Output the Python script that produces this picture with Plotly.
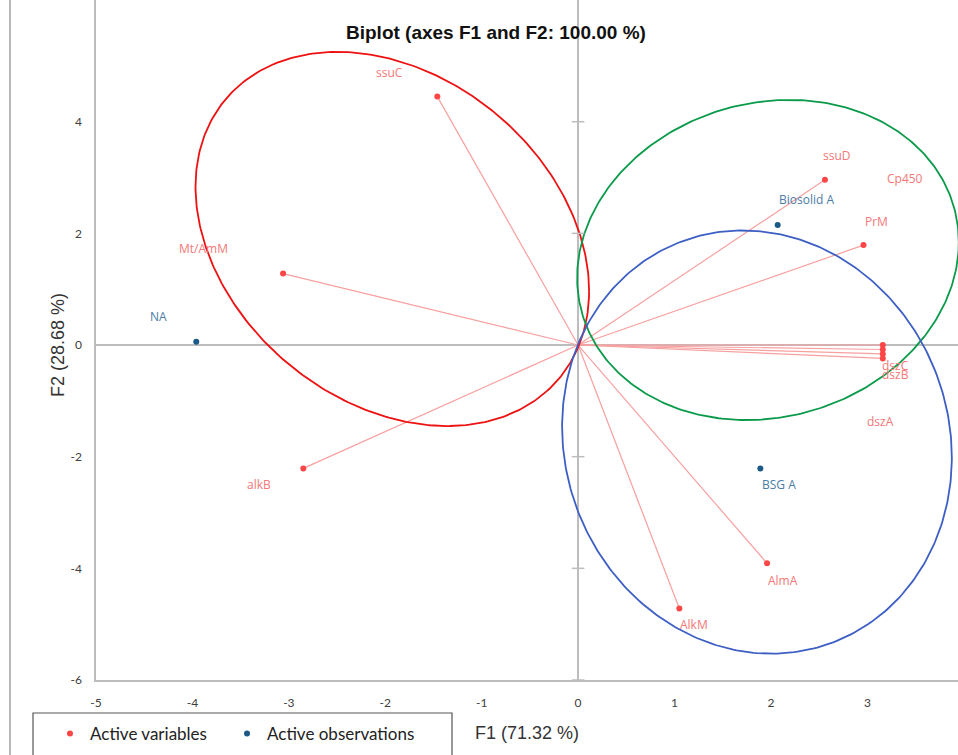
import numpy as np
import plotly.graph_objects as go

# ---- data ----
var_names = ["ssuC", "Mt/AmM", "alkB", "ssuD", "PrM", "Cp450", "dszC", "dszB", "dszA", "AlmA", "AlkM"]
var_f1 = [-1.46, -3.06, -2.85, 2.56, 2.96, 3.16, 3.16, 3.16, 3.16, 1.96, 1.05]
var_f2 = [4.45, 1.28, -2.21, 2.96, 1.79, 0.00, -0.08, -0.16, -0.24, -3.91, -4.72]

obs_names = ["NA", "Biosolid A", "BSG A"]
obs_f1 = [-3.96, 2.07, 1.89]
obs_f2 = [0.06, 2.15, -2.21]

x_ticks = [-5, -4, -3, -2, -1, 0, 1, 2, 3]
y_ticks = [-6, -4, -2, 0, 2, 4]

# ---- label offsets in px (dx right, dy down) ----
var_label_off = [(-48, -24), (-80, -25), (-44, 16), (12, -24), (13, -24), (22, -167),
                 (13, 16), (13, 21), (-2, 63), (16, 17), (15, 16)]
obs_label_off = [(-38, -25), (29, -25), (19, 16)]

# ---- group ellipses: centre, spreads, correlation (data units) ----
ellipses = [
    dict(cx=-1.927, cy=1.90, sx=2.041, sy=3.351, rho=-0.279, color="#EE1111"),
    dict(cx=1.969, cy=1.523, sx=1.979, sy=2.867, rho=0.111, color="#0A9A4A"),
    dict(cx=1.855, cy=-1.738, sx=2.021, sy=3.790, rho=-0.073, color="#3D5FC4"),
]

VAR_PT = "#FF4545"
VAR_LINE = "#F8A0A0"
VAR_TXT = "#F47878"
OBS_PT = "#1B5A86"
OBS_TXT = "#4B7BA6"
AX = "#BDBDBD"

fig = go.Figure()

# vectors from origin
lx, ly = [], []
for a, b in zip(var_f1, var_f2):
    lx += [0, a, None]
    ly += [0, b, None]
fig.add_trace(go.Scatter(x=lx, y=ly, mode="lines", line=dict(color=VAR_LINE, width=1.2),
                         showlegend=False, hoverinfo="skip"))

# ellipses
t = np.linspace(0, 2 * np.pi, 361)
for e in ellipses:
    ex = e["cx"] + e["sx"] * np.cos(t)
    ey = e["cy"] + e["sy"] * (e["rho"] * np.cos(t) + np.sqrt(1 - e["rho"] ** 2) * np.sin(t))
    fig.add_trace(go.Scatter(x=ex, y=ey, mode="lines", line=dict(color=e["color"], width=1.8),
                             showlegend=False, hoverinfo="skip"))

# tick marks on the vertical zero axis
ytm = [v for v in y_ticks if v != 0]
fig.add_trace(go.Scatter(x=[0] * len(ytm), y=ytm, mode="markers",
                         marker=dict(symbol="line-ew", size=9, line=dict(color=AX, width=1.5)),
                         showlegend=False, hoverinfo="skip"))

fig.add_trace(go.Scatter(x=var_f1, y=var_f2, mode="markers", name="Active variables",
                         marker=dict(color=VAR_PT, size=6), legend="legend"))
fig.add_trace(go.Scatter(x=obs_f1, y=obs_f2, mode="markers", name="Active observations",
                         marker=dict(color=OBS_PT, size=6), legend="legend2"))

ann = []
for n, a, b, (dx, dy) in zip(var_names, var_f1, var_f2, var_label_off):
    ann.append(dict(x=a, y=b, text=n, showarrow=False, xshift=dx, yshift=-dy,
                    font=dict(family="Open Sans", size=12, color=VAR_TXT)))
for n, a, b, (dx, dy) in zip(obs_names, obs_f1, obs_f2, obs_label_off):
    ann.append(dict(x=a, y=b, text=n, showarrow=False, xshift=dx, yshift=-dy,
                    font=dict(family="Open Sans", size=12, color=OBS_TXT)))

W, H = 958, 755
L, B = 96, 75
pw, ph = W - L, H - B


def px(xp):
    return (xp - L) / pw


def py(yp):
    return (ph - yp) / ph


ann.append(dict(xref="paper", yref="paper", x=px(496), y=py(32), xanchor="center", yanchor="middle",
                text="<b>Biplot (axes F1 and F2: 100.00 %)</b>", showarrow=False,
                font=dict(family="Liberation Sans", size=19, color="#111111")))
ann.append(dict(xref="paper", yref="paper", x=px(527), y=py(733), xanchor="center", yanchor="middle",
                text="F1 (71.32 %)", showarrow=False,
                font=dict(family="Liberation Sans", size=18, color="#333333")))
ann.append(dict(xref="paper", yref="paper", x=px(58), y=py(345), xanchor="center", yanchor="middle",
                text="F2 (28.68 %)", showarrow=False, textangle=-90,
                font=dict(family="Liberation Sans", size=18, color="#333333")))

leg_font = dict(family="Lato", size=17, color="#222222")

fig.update_layout(
    width=W, height=H,
    margin=dict(l=L, r=0, t=0, b=B, autoexpand=False),
    paper_bgcolor="white", plot_bgcolor="white",
    annotations=ann,
    shapes=[
        dict(type="line", xref="paper", yref="paper", x0=px(10), x1=px(10),
             y0=-0.2, y1=1.1, line=dict(color="#A0A0A0", width=1.5)),
        dict(type="rect", xref="paper", yref="paper", x0=px(33), x1=px(452),
             y0=py(762), y1=py(713), line=dict(color="#555555", width=1.2)),
    ],
    xaxis=dict(range=[-5, 3.94], tickvals=x_ticks, ticktext=[str(v) for v in x_ticks],
               showgrid=False, zeroline=True,
               zerolinecolor=AX, zerolinewidth=1.5, showline=True, linecolor=AX, linewidth=1.5,
               ticks="", ticklabelstandoff=11,
               tickfont=dict(family="Lato", size=12, color="#404040")),
    yaxis=dict(range=[-6, 6.18], tickvals=y_ticks, ticktext=[str(v) for v in y_ticks],
               showgrid=False,
               zeroline=True, zerolinecolor=AX, zerolinewidth=1.5, showline=True, linecolor=AX,
               linewidth=1.5, ticks="", ticklabelstandoff=10,
               tickfont=dict(family="Lato", size=12, color="#404040")),
    legend=dict(orientation="h", x=px(50), y=py(716), xanchor="left", yanchor="top",
                borderwidth=0, bgcolor="rgba(0,0,0,0)", font=leg_font, itemwidth=30),
    legend2=dict(orientation="h", x=px(227), y=py(716), xanchor="left", yanchor="top",
                 borderwidth=0, bgcolor="rgba(0,0,0,0)", font=leg_font, itemwidth=30),
    showlegend=True,
)

fig.write_html("out.html", config={"displayModeBar": False},
               post_script="document.body.style.margin='0';")
